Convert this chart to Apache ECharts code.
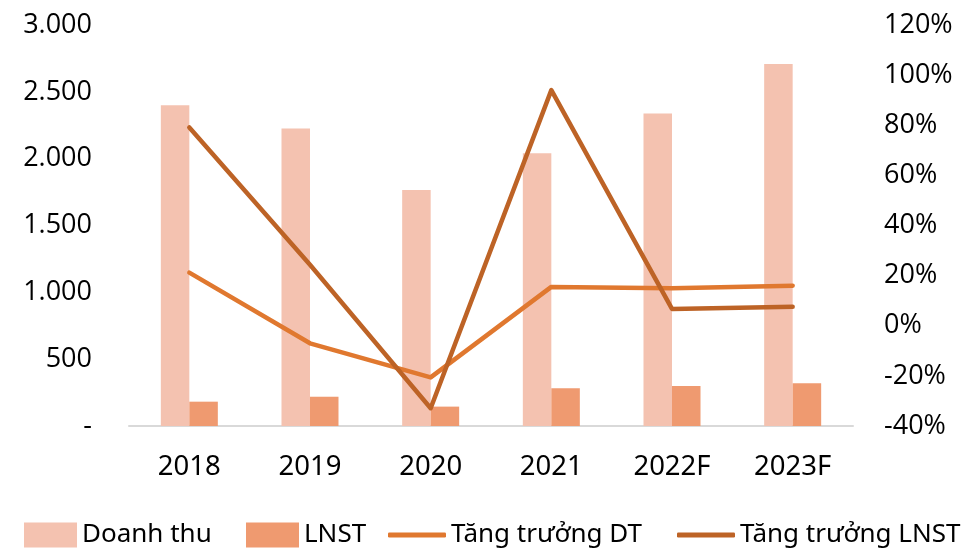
<!DOCTYPE html>
<html><head><meta charset="utf-8">
<script src="https://cdn.jsdelivr.net/npm/echarts@6/dist/echarts.min.js"></script>
<style>html,body{margin:0;padding:0;background:#fff}#c{width:971px;height:550px}</style>
</head><body><div id="c"></div>
<script>
const categories = ['2018', '2019', '2020', '2021', '2022F', '2023F'];
const doanhThu = [2400, 2225, 1765, 2040, 2338, 2708];
const lnst = [182, 219, 145, 282, 300, 320];
const tangTruongDT = [21.2, -7.0, -20.6, 15.5, 15.0, 16.0];
const tangTruongLNST = [79.1, 24.3, -32.9, 94.0, 6.7, 7.6];
const seriesNames = ['Doanh thu', 'LNST', 'Tăng trưởng DT', 'Tăng trưởng LNST'];

const font = '"Noto Sans", "Open Sans", sans-serif';
const legendText = { fontFamily: font, fontSize: 26, color: '#000' };
function barLegend(name, left) {
  return { data: [name], left: left, top: 517, itemWidth: 53, itemHeight: 25, icon: 'rect', textStyle: legendText };
}
function lineLegend(name, left) {
  return { data: [name], left: left, top: 517, itemWidth: 58, itemHeight: 5, icon: 'roundRect', textStyle: legendText };
}
const chart = echarts.init(document.getElementById('c'));
chart.setOption({
  animation: false,
  grid: { left: 129, right: 118, top: 25, bottom: 124 },
  legend: [
    barLegend(seriesNames[0], 19),
    barLegend(seriesNames[1], 241),
    lineLegend(seriesNames[2], 383),
    lineLegend(seriesNames[3], 672)
  ],
  xAxis: {
    type: 'category', data: categories,
    axisLine: { lineStyle: { color: '#d9d9d9', width: 2 } },
    axisTick: { show: false },
    axisLabel: { fontFamily: font, fontSize: 27.5, color: '#000', margin: 27 }
  },
  yAxis: [
    { type: 'value', min: 0, max: 3000, interval: 500,
      splitLine: { show: false }, axisLine: { show: false }, axisTick: { show: false },
      axisLabel: { fontFamily: '"Open Sans", sans-serif', fontSize: 27, color: '#000', margin: 37,
        formatter: v => v === 0 ? '-' : v.toLocaleString('de-DE') } },
    { type: 'value', min: -40, max: 120, interval: 20,
      splitLine: { show: false }, axisLine: { show: false }, axisTick: { show: false },
      axisLabel: { fontFamily: '"Open Sans", sans-serif', fontSize: 27, color: '#000', margin: 31,
        formatter: v => v + '%' } }
  ],
  series: [
    { name: seriesNames[0], type: 'bar', data: doanhThu, barWidth: 28.5, barGap: '0%',
      itemStyle: { color: '#F4C2B0' } },
    { name: seriesNames[1], type: 'bar', data: lnst, barWidth: 28.5, barGap: '0%',
      itemStyle: { color: '#EF9A70' } },
    { name: seriesNames[2], type: 'line', yAxisIndex: 1, data: tangTruongDT,
      symbol: 'none', lineStyle: { color: '#E0782F', width: 4.5, cap: 'round', join: 'round' },
      itemStyle: { color: '#E0782F' } },
    { name: seriesNames[3], type: 'line', yAxisIndex: 1, data: tangTruongLNST,
      symbol: 'none', lineStyle: { color: '#BD6326', width: 4.5, cap: 'round', join: 'round' },
      itemStyle: { color: '#BD6326' } }
  ]
});
</script></body></html>
